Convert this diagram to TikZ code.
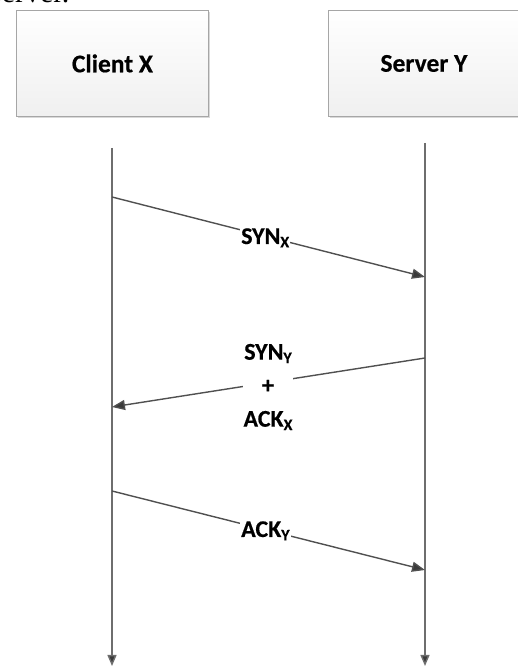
\documentclass[tikz,border=0pt]{standalone}
\usepackage{fontspec}
\setmainfont{Carlito}[BoldFeatures={FakeBold=0.4}]
\newfontfamily\bodyserif{Liberation Serif}
\usetikzlibrary{arrows.meta,shadows}
\definecolor{boxedge}{HTML}{A6A6A6}
\definecolor{lifeline}{HTML}{6E6E6E}
\definecolor{msgline}{HTML}{505050}
\definecolor{tipcol}{HTML}{3A3A3A}
\newcommand{\sub}[1]{\raisebox{-0.14em}{\fontsize{16}{16}\selectfont #1}}
\tikzset{
  x=1pt, y=1pt,
  actor/.style={draw=boxedge, line width=0.9pt, top color=white, bottom color=black!6,
    minimum width=192pt, minimum height=106pt, anchor=north west,
    font=\fontsize{25.5}{28}\selectfont\bfseries,
    drop shadow={shadow xshift=1.6pt, shadow yshift=-1.6pt, opacity=0.25, fill=black!60}},
  life/.style={draw=lifeline, line width=1.4pt, -{Triangle[length=11pt,width=9pt,fill=tipcol]}},
  msg/.style={draw=msgline, line width=1.4pt, -{Triangle[length=13pt,width=10pt,fill=tipcol]}},
  msglabel/.style={fill=white, inner sep=1pt, font=\fontsize{24}{33.5}\selectfont\bfseries, align=center}
}
\begin{document}
\begin{tikzpicture}
\useasboundingbox (0,0) rectangle (517,672);
% running text just above the figure, mostly cut off by the page edge
\node[anchor=base west, inner sep=0pt, font=\bodyserif\fontsize{30}{32}\selectfont] (run) at (-10,669) {server.};
% the two parties
\node[actor] (client) at (16,662) {Client X};
\node[actor, minimum width=191pt] (server) at (328,662) {Server Y};
% lifelines
\coordinate (ctop) at (112,524);
\coordinate (cend) at (112,6);
\coordinate (stop) at (425,529);
\coordinate (send) at (425,6);
\draw[life] (ctop) -- (cend);
\draw[life] (stop) -- (send);
% message end points
\coordinate (c1) at (112,475);
\coordinate (s1) at (425,395);
\coordinate (s2) at (425,314);
\coordinate (c2) at (112,265);
\coordinate (c3) at (112,181);
\coordinate (s3) at (425,102);
% handshake messages
\draw[msg] (c1) -- (s1);
\node[msglabel, anchor=base west] (l1) at (240,428) {SYN\sub{X}};
\draw[msg] (s2) -- (c2);
\node[msglabel] (l2) at (268,285) {SYN\sub{Y}\\+\\ACK\sub{X}};
\draw[msg] (c3) -- (s3);
\node[msglabel, anchor=base west] (l3) at (240,135) {ACK\sub{Y}};
\end{tikzpicture}
\end{document}
